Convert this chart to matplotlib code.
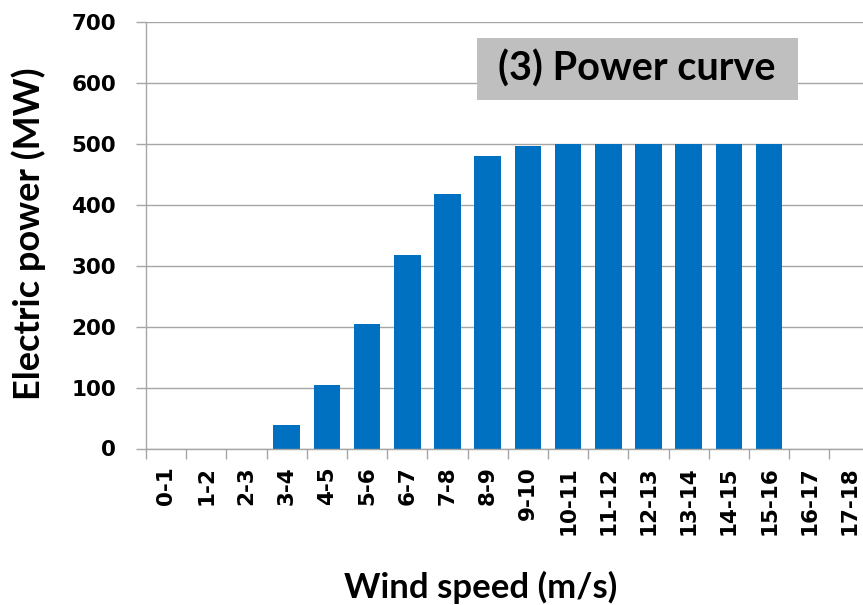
import matplotlib
matplotlib.use('Agg')
import matplotlib.pyplot as plt
from matplotlib.patches import Rectangle
import numpy as np

# Data
categories = ['0-1', '1-2', '2-3', '3-4', '4-5', '5-6', '6-7', '7-8', '8-9',
              '9-10', '10-11', '11-12', '12-13', '13-14', '14-15', '15-16',
              '16-17', '17-18']
power_mw = [0, 0, 0, 38, 104, 204, 318, 418, 480, 497,
            500, 500, 500, 500, 500, 500, 0, 0]
y_ticks = [0, 100, 200, 300, 400, 500, 600, 700]

W, H = 863, 605
BAR_COLOR = '#0070C0'
GRID_COLOR = '#A6A6A6'
LABEL_FONT = 'Lato'

fig = plt.figure(figsize=(W / 100, H / 100), dpi=100)
# axes box in pixels: left 146, top 22, bottom 448.5, category width ~40.2
ax = fig.add_axes([146 / W, (H - 448.5) / H, 723.6 / W, 426.5 / H])

x = np.arange(len(categories))
ax.bar(x, power_mw, width=0.66, color=BAR_COLOR, zorder=3)

ax.set_xlim(-0.5, len(categories) - 0.5)
ax.set_ylim(0, 700)

ax.set_yticks(y_ticks)
ax.set_yticklabels([str(v) for v in y_ticks], fontsize=15.5,
                   fontweight='bold', family='DejaVu Sans')
ax.yaxis.grid(True, color=GRID_COLOR, linewidth=1.0, zorder=0)

# major ticks on category boundaries, labels on category centres
ax.set_xticks(np.arange(len(categories) + 1) - 0.5)
ax.set_xticklabels([])
ax.set_xticks(x, minor=True)
ax.set_xticklabels(categories, minor=True, rotation=90, fontsize=15.5,
                   fontweight='bold', family='DejaVu Sans', va='top')
ax.tick_params(axis='x', which='major', direction='out', length=7.5,
               width=1.0, color=GRID_COLOR)
ax.tick_params(axis='x', which='minor', length=0, pad=13)
ax.tick_params(axis='y', direction='out', length=7.5, width=1.0,
               color=GRID_COLOR, pad=14)

for side in ['top', 'right']:
    ax.spines[side].set_visible(False)
for side in ['left', 'bottom']:
    ax.spines[side].set_color(GRID_COLOR)
    ax.spines[side].set_linewidth(1.0)
    ax.spines[side].set_zorder(4)

fig.text(481 / W, 1 - 587 / H, 'Wind speed (m/s)', ha='center', va='center',
         fontsize=25, fontweight='bold', family=LABEL_FONT)
fig.text(29 / W, 1 - 234 / H, 'Electric power (MW)', ha='center',
         va='center', rotation=90, fontsize=26, fontweight='bold',
         family=LABEL_FONT)

# title box
fig.patches.append(Rectangle((477 / W, 1 - 100 / H), 321 / W, 62 / H,
                             transform=fig.transFigure, facecolor='#BFBFBF',
                             edgecolor='none', zorder=5))
fig.text(637 / W, 1 - 69 / H, '(3) Power curve', ha='center', va='center',
         fontsize=28.5, fontweight='bold', family=LABEL_FONT, zorder=6)

fig.savefig('out.png', dpi=100)
